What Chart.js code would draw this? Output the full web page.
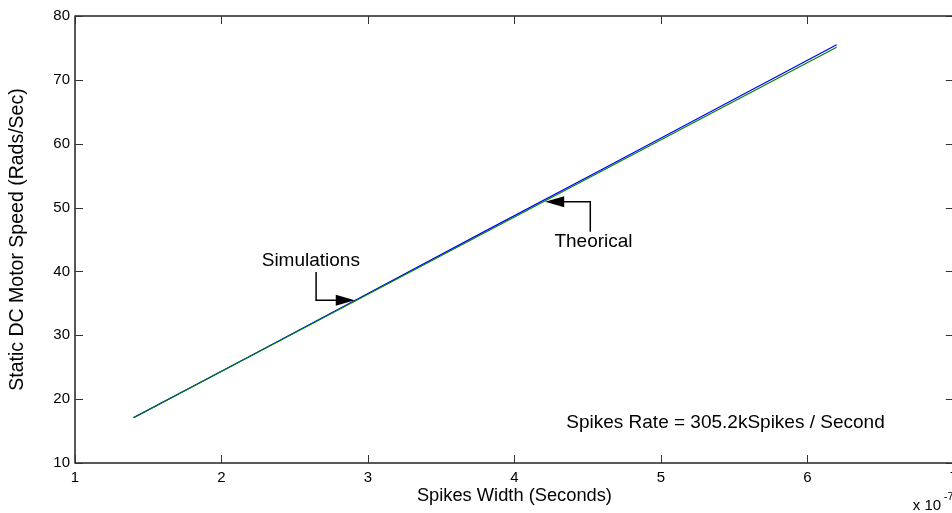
<!DOCTYPE html>
<html>
<head>
<meta charset="utf-8">
<script src="https://cdn.jsdelivr.net/npm/chart.js@4.4.1/dist/chart.umd.min.js"></script>
<style>
html,body{margin:0;padding:0;background:#fff;overflow:hidden;width:952px;height:513px;}
#wrap{position:relative;width:952px;height:513px;overflow:hidden;}
#c{position:absolute;left:0;top:0;}
</style>
</head>
<body>
<div id="wrap"><canvas id="c" width="964" height="513"></canvas></div>
<script>
// ---- data (x in units of 1e-7 s) ----
const spikeWidths = [1.4, 2.2, 3.0, 3.8, 4.6, 5.4, 6.2];
const simulations = [17.1, 26.8, 36.55, 46.3, 56.0, 65.75, 75.5];
const theorical   = [17.1, 26.76, 36.43, 46.09, 55.76, 65.42, 75.1];
const xTicks = [1, 2, 3, 4, 5, 6, 7];
const yTicks = [10, 20, 30, 40, 50, 60, 70, 80];
const xTitle = 'Spikes Width (Seconds)';
const yTitle = 'Static DC Motor Speed (Rads/Sec)';
const rateText = 'Spikes Rate = 305.2kSpikes / Second';

// annotation anchors in data units
const simLabel = {text: 'Simulations', x: 2.61, y: 41.6, elbowX: 2.646, topY: 39.9, tipX: 2.91, tipY: 35.5};
const theoLabel = {text: 'Theorical', x: 4.54, y: 44.65, elbowX: 4.518, bottomY: 46.2, tipX: 4.21, tipY: 50.9};
const rateLabel = {x: 4.354, y: 16.26};

const FONT = 'Liberation Sans, Arial, Helvetica, sans-serif';

const toPts = arr => spikeWidths.map((x, i) => ({x: x, y: arr[i]}));

function arrow(ctx, pts, tip, dir) {
  ctx.beginPath();
  ctx.moveTo(pts[0][0], pts[0][1]);
  for (let i = 1; i < pts.length; i++) ctx.lineTo(pts[i][0], pts[i][1]);
  ctx.stroke();
  const L = 19, H = 5.5;
  ctx.beginPath();
  ctx.moveTo(tip[0], tip[1]);
  ctx.lineTo(tip[0] - dir * L, tip[1] - H);
  ctx.lineTo(tip[0] - dir * L, tip[1] + H);
  ctx.closePath();
  ctx.fill();
}

const matlabAxes = {
  id: 'matlabAxes',
  afterDraw(chart) {
    const {ctx, chartArea: a, scales: {x, y}} = chart;
    ctx.save();
    ctx.strokeStyle = '#000';
    ctx.lineWidth = 1.3;
    ctx.strokeRect(a.left, a.top, a.right - a.left, a.bottom - a.top);
    // inward ticks on all sides
    ctx.lineWidth = 1;
    ctx.strokeStyle = '#333';
    const tl = 8;
    ctx.beginPath();
    xTicks.forEach(v => {
      const px = Math.round(x.getPixelForValue(v)) + 0.5;
      ctx.moveTo(px, a.bottom); ctx.lineTo(px, a.bottom - tl);
      ctx.moveTo(px, a.top); ctx.lineTo(px, a.top + tl);
    });
    yTicks.forEach(v => {
      const py = Math.round(y.getPixelForValue(v)) + 0.5;
      ctx.moveTo(a.left, py); ctx.lineTo(a.left + tl, py);
      ctx.moveTo(a.right, py); ctx.lineTo(a.right - tl, py);
    });
    ctx.stroke();

    // annotations
    ctx.fillStyle = '#000';
    ctx.strokeStyle = '#000';
    ctx.lineWidth = 1.5;
    ctx.font = '19px ' + FONT;
    ctx.textAlign = 'center';
    ctx.textBaseline = 'middle';
    ctx.fillText(simLabel.text, x.getPixelForValue(simLabel.x), y.getPixelForValue(simLabel.y));
    arrow(ctx, [
      [x.getPixelForValue(simLabel.elbowX), y.getPixelForValue(simLabel.topY)],
      [x.getPixelForValue(simLabel.elbowX), y.getPixelForValue(simLabel.tipY)],
      [x.getPixelForValue(simLabel.tipX) - 10, y.getPixelForValue(simLabel.tipY)]
    ], [x.getPixelForValue(simLabel.tipX), y.getPixelForValue(simLabel.tipY)], 1);

    ctx.fillText(theoLabel.text, x.getPixelForValue(theoLabel.x), y.getPixelForValue(theoLabel.y));
    arrow(ctx, [
      [x.getPixelForValue(theoLabel.elbowX), y.getPixelForValue(theoLabel.bottomY)],
      [x.getPixelForValue(theoLabel.elbowX), y.getPixelForValue(theoLabel.tipY)],
      [x.getPixelForValue(theoLabel.tipX) + 10, y.getPixelForValue(theoLabel.tipY)]
    ], [x.getPixelForValue(theoLabel.tipX), y.getPixelForValue(theoLabel.tipY)], -1);

    ctx.textAlign = 'left';
    ctx.fillText(rateText, x.getPixelForValue(rateLabel.x), y.getPixelForValue(rateLabel.y));

    // exponent label
    ctx.font = '15px ' + FONT;
    ctx.textBaseline = 'alphabetic';
    const ex = a.right - 41, ey = chart.height - 3;
    ctx.fillText('x 10', ex, ey);
    ctx.font = '11px ' + FONT;
    ctx.fillText('-7', ex + 31, ey - 10);
    ctx.restore();
  }
};

new Chart(document.getElementById('c'), {
  type: 'line',
  data: {
    datasets: [
      {label: 'Simulations', data: toPts(simulations), borderColor: '#0000ff', borderWidth: 1.3, pointRadius: 0, fill: false, tension: 0, order: 1},
      {label: 'Theorical', data: toPts(theorical), borderColor: '#008000', borderWidth: 1.1, pointRadius: 0, fill: false, tension: 0, order: 0}
    ]
  },
  options: {
    responsive: false,
    animation: false,
    events: [],
    layout: {padding: {top: 16, right: 9, left: 0, bottom: 0}},
    plugins: {legend: {display: false}, tooltip: {enabled: false}},
    scales: {
      x: {
        type: 'linear', min: 1, max: 7,
        afterBuildTicks: s => { s.ticks = xTicks.map(v => ({value: v})); },
        afterFit: s => { s.height = 50; },
        grid: {display: false, drawTicks: false},
        border: {display: false},
        ticks: {color: '#000', padding: 6, font: {family: FONT, size: 15}, maxRotation: 0, autoSkip: false},
        title: {display: true, text: xTitle, color: '#000', font: {family: FONT, size: 18.3}, padding: {top: 0, bottom: 6}}
      },
      y: {
        type: 'linear', min: 10, max: 80,
        afterBuildTicks: s => { s.ticks = yTicks.map(v => ({value: v})); },
        afterFit: s => { s.width = 75; },
        grid: {display: false, drawTicks: false},
        border: {display: false},
        ticks: {color: '#000', padding: 5, font: {family: FONT, size: 15}, autoSkip: false},
        title: {display: true, text: yTitle, color: '#000', font: {family: FONT, size: 19.5}, padding: {top: 6, bottom: 0}}
      }
    }
  },
  plugins: [matlabAxes]
});
</script>
</body>
</html>
